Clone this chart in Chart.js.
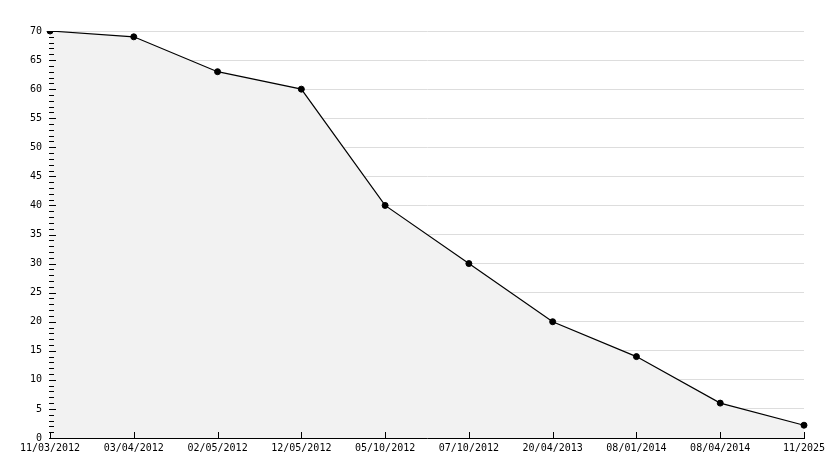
<!DOCTYPE html>
<html lang="en">
<head>
    <meta charset="UTF-8">
    <title>Chart</title>
    <script src="https://cdn.jsdelivr.net/npm/chart.js@4.4.1/dist/chart.umd.min.js"></script>
    <style>
        body {
            margin: 0;
            padding: 0;
            background-color: #ffffff;
        }
        .chart-box {
            width: 834px;
            height: 468px;
        }
    </style>
</head>
<body>
    <div class="chart-box">
        <canvas id="burnChart" width="834" height="468"></canvas>
    </div>

    <script>
        // Data
        const dateLabels = ['11/03/2012', '03/04/2012', '02/05/2012', '12/05/2012', '05/10/2012',
                            '07/10/2012', '20/04/2013', '08/01/2014', '08/04/2014', '11/2025'];
        const remaining = [70, 69, 63, 60, 40, 30, 20, 14, 6, 2.2];
        const yMin = 0;
        const yMax = 70;
        const yStep = 5;
        const yMinorStep = 1;

        // Inward ticks: major + minor on the y axis, one per category on the x axis
        const tickMarks = {
            id: 'tickMarks',
            afterDraw(chart) {
                const ctx = chart.ctx;
                const x = chart.scales.x;
                const y = chart.scales.y;
                const left = chart.chartArea.left;
                const bottom = chart.chartArea.bottom;
                ctx.save();
                ctx.strokeStyle = '#000';
                ctx.lineWidth = 1;
                ctx.beginPath();
                for (let v = yMin; v <= yMax; v += yMinorStep) {
                    const py = Math.round(y.getPixelForValue(v)) + 0.5;
                    const len = (v % yStep === 0) ? 6 : 4;
                    ctx.moveTo(left - 1, py);
                    ctx.lineTo(left + len, py);
                }
                dateLabels.forEach((lbl, i) => {
                    const px = Math.round(x.getPixelForValue(i)) + 0.5;
                    ctx.moveTo(px, bottom);
                    ctx.lineTo(px, bottom - 6);
                });
                ctx.stroke();
                ctx.restore();
            }
        };

        const ctx = document.getElementById('burnChart').getContext('2d');
        new Chart(ctx, {
            type: 'line',
            data: {
                labels: dateLabels,
                datasets: [{
                    data: remaining,
                    borderColor: '#000000',
                    borderWidth: 1.2,
                    backgroundColor: '#f2f2f2',
                    fill: 'origin',
                    tension: 0,
                    pointRadius: 3,
                    pointBackgroundColor: '#000000',
                    pointBorderColor: '#000000',
                    pointBorderWidth: 1
                }]
            },
            options: {
                responsive: false,
                animation: false,
                layout: {
                    autoPadding: false,
                    padding: { top: 31, right: 30, left: 0, bottom: 0 }
                },
                plugins: {
                    legend: { display: false },
                    tooltip: { enabled: false }
                },
                scales: {
                    x: {
                        offset: false,
                        afterFit: (scale) => { scale.height = 30; },
                        grid: { display: false, drawTicks: false },
                        border: { color: '#000000', width: 1 },
                        ticks: {
                            color: '#000000',
                            padding: 4,
                            maxRotation: 0,
                            autoSkip: false,
                            font: { family: 'DejaVu Sans Mono', size: 10 }
                        }
                    },
                    y: {
                        min: yMin,
                        max: yMax,
                        afterFit: (scale) => { scale.width = 50; },
                        grid: { color: '#dddddd', drawTicks: false },
                        border: { color: '#000000', width: 1 },
                        ticks: {
                            stepSize: yStep,
                            color: '#000000',
                            padding: 8,
                            font: { family: 'DejaVu Sans Mono', size: 10 }
                        }
                    }
                }
            },
            plugins: [tickMarks]
        });
    </script>
</body>
</html>
